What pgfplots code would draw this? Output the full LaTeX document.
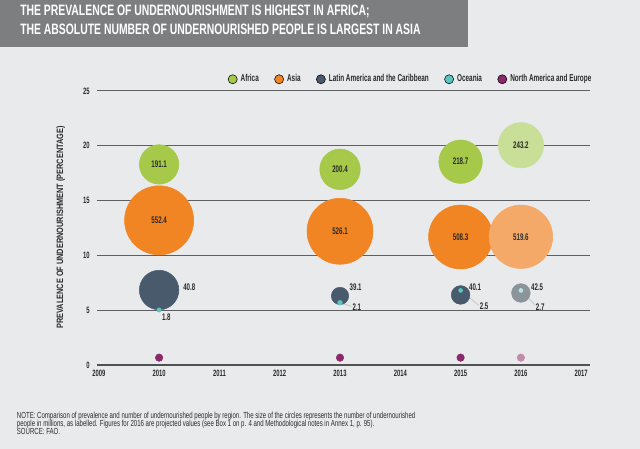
\documentclass[border=0pt]{standalone}
\usepackage{pgfplots}
\pgfplotsset{compat=1.18}
\usepackage{pgfplotstable}
\usepackage{fontspec}
\setmainfont{Liberation Sans}[FakeStretch=0.64]
\newfontfamily\titlefont{Liberation Sans}[FakeStretch=0.69]
\newfontfamily\notefont{Liberation Sans}[FakeStretch=0.69]
\newfontfamily\ylfont{Liberation Sans}[FakeStretch=0.80]
\definecolor{bgc}{HTML}{E9EAEC}
\definecolor{titlec}{HTML}{7D7E80}
\definecolor{afr}{HTML}{A6C94A}
\definecolor{afrp}{HTML}{C9DF97}
\definecolor{asi}{HTML}{F28523}
\definecolor{asip}{HTML}{F5A968}
\definecolor{lat}{HTML}{485A6B}
\definecolor{latp}{HTML}{8C939B}
\definecolor{oce}{HTML}{5CC4C0}
\definecolor{ocep}{HTML}{B9E2E4}
\definecolor{nae}{HTML}{8A2A6A}
\definecolor{naep}{HTML}{C28BAA}
\definecolor{gridc}{HTML}{5E5F61}
\definecolor{txtc}{HTML}{2A2A2A}
\definecolor{leadc}{HTML}{C9CACC}

\pgfplotstableread{
x y r
2010 18.3 14.8
2013 17.85 15.2
2015 18.55 16.3
}\afrtab
\pgfplotstableread{
x y r
2016 20.05 17.0
}\afrptab
\pgfplotstableread{
x y r
2010 13.2 25.9
2013 12.2 24.75
2015 11.68 24.0
}\asitab
\pgfplotstableread{
x y r
2016 11.7 23.8
}\asiptab
\pgfplotstableread{
x y r
2010 6.84 14.8
2013 6.3 6.5
2015 6.39 7.0
}\lattab
\pgfplotstableread{
x y r
2016 6.57 7.0
}\latptab
\pgfplotstableread{
x y r
2010 5.02 1.6
2013 5.68 1.8
2015 6.8 1.5
}\ocetab
\pgfplotstableread{
x y r
2016 6.8 1.5
}\oceptab
\pgfplotstableread{
x y r
2010 0.67 2.8
2013 0.67 2.8
2015 0.67 2.8
}\naetab
\pgfplotstableread{
x y r
2016 0.67 2.8
}\naeptab
\pgfplotstableread{
x y lab
2010 18.3 191.1
2010 13.2 552.4
2010.50 7.12 40.8
2010.12 4.35 1.8
2013 17.85 200.4
2013 12.2 526.1
2013.26 7.14 39.1
2013.28 5.32 2.1
2015 18.6 218.7
2015 11.68 508.3
2015.24 7.14 40.1
2015.39 5.32 2.5
2016 20.05 243.2
2016 11.7 519.6
2016.27 7.14 42.5
2016.32 5.32 2.7
}\labtab

\pgfplotsset{
  bub/.style={scatter, only marks, mark=*,
    scatter/use mapped color={draw=#1, fill=#1},
    visualization depends on={\thisrow{r}\as\rad},
    scatter/@pre marker code/.append style={/tikz/mark size=\rad}},
}

\begin{document}
\begin{tikzpicture}
\path[use as bounding box] (0,0) rectangle (480pt,336.75pt);
\fill[bgc] (0,0) rectangle (480pt,336.75pt);
\fill[titlec] (0,300.75pt) rectangle (351pt,336.75pt);
\draw[white!85!titlec, line width=0.75pt] (351pt,336.75pt) -- (351pt,300.75pt) -- (0,300.75pt);
\node[anchor=base west, inner sep=0pt, text=white, font=\titlefont\bfseries\fontsize{11.3}{13}\selectfont] at (15pt,325pt) {THE PREVALENCE OF UNDERNOURISHMENT IS HIGHEST IN AFRICA;};
\node[anchor=base west, inner sep=0pt, text=white, font=\titlefont\bfseries\fontsize{11.3}{13}\selectfont] at (15pt,311.1pt) {THE ABSOLUTE NUMBER OF UNDERNOURISHED PEOPLE IS LARGEST IN ASIA};
\node[anchor=base west, inner sep=0pt, text=txtc, font=\notefont\fontsize{6.6}{8}\selectfont] at (12.5pt,23pt) {NOTE: Comparison of prevalence and number of undernourished people by region. The size of the circles represents the number of undernourished};
\node[anchor=base west, inner sep=0pt, text=txtc, font=\notefont\fontsize{6.6}{8}\selectfont] at (12.5pt,16.7pt) {people in millions, as labelled. Figures for 2016 are projected values (see Box 1 on p. 4 and Methodological notes in Annex 1, p. 95).};
\node[anchor=base west, inner sep=0pt, text=txtc, font=\notefont\fontsize{6.6}{8}\selectfont] at (12.5pt,10.5pt) {SOURCE: FAO.};

\begin{axis}[
  at={(72.75pt,63pt)}, anchor=south west,
  scale only axis, width=369.75pt, height=205.5pt,
  xmin=2008.970, xmax=2017.146, ymin=0, ymax=25,
  clip=false,
  xtick={2009,2010,...,2017}, ytick={0,5,...,25},
  /pgf/number format/assume math mode=true,
  /pgf/number format/set thousands separator={},
  axis line style={draw=none},
  major tick length=0pt,
  ymajorgrids, grid style={gridc, line width=0.75pt},
  extra y ticks={0}, extra y tick labels={},
  extra y tick style={grid style={gridc!85!black, line width=1.9pt}},
  tick label style={font=\bfseries\fontsize{6.9}{8}\selectfont, text=txtc},
  yticklabel style={xshift=-2pt},
  xticklabel style={yshift=-0.5pt},
  ylabel={PREVALENCE OF UNDERNOURISHMENT (PERCENTAGE)},
  ylabel style={at={(axis description cs:-0.0736,0.502)}, anchor=center, font=\ylfont\bfseries\fontsize{6.9}{8}\selectfont, text=txtc},
  legend columns=5,
  legend image code/.code={\fill[#1] (0pt,0pt) circle (3.4pt);},
  legend style={at={(axis description cs:1.006,1.0428)}, anchor=east, draw=none, fill=none, inner sep=0pt,
    font=\bfseries\fontsize{7.5}{9}\selectfont, text=txtc,
    nodes={inner sep=1pt},
    /tikz/every odd column/.append style={column sep=1.4pt},
    /tikz/every even column/.append style={column sep=10.6pt}},
]
\addlegendimage{fill=afr}\addlegendentry{Africa}
\addlegendimage{fill=asi}\addlegendentry{Asia}
\addlegendimage{fill=lat}\addlegendentry{Latin America and the Caribbean}
\addlegendimage{fill=oce}\addlegendentry{Oceania}
\addlegendimage{fill=nae}\addlegendentry{North America and Europe}

\addplot[bub=afr] table {\afrtab};
\addplot[bub=afrp] table {\afrptab};
\addplot[bub=asi] table {\asitab};
\addplot[bub=asip] table {\asiptab};
\addplot[bub=lat] table {\lattab};
\addplot[bub=latp] table {\latptab};
\addplot[no marks, leadc, line width=0.7pt] coordinates {(2013,5.68) (2013.19,5.36)};
\addplot[no marks, leadc, line width=0.7pt] coordinates {(2015,6.8) (2015.30,5.45)};
\addplot[no marks, leadc, line width=0.7pt] coordinates {(2016,6.8) (2016.24,5.45)};
\addplot[bub=oce] table {\ocetab};
\addplot[bub=ocep] table {\oceptab};
\addplot[bub=nae] table {\naetab};
\addplot[bub=naep] table {\naeptab};
\addplot[only marks, mark=*, mark size=0pt, mark options={draw=none, fill=none},
  nodes near coords, point meta=explicit symbolic, nodes near coords align=center,
  every node near coord/.append style={font=\bfseries\fontsize{7.2}{8}\selectfont, text=txtc, inner sep=0pt}]
  table[meta=lab] {\labtab};
\end{axis}
\end{tikzpicture}
\end{document}
